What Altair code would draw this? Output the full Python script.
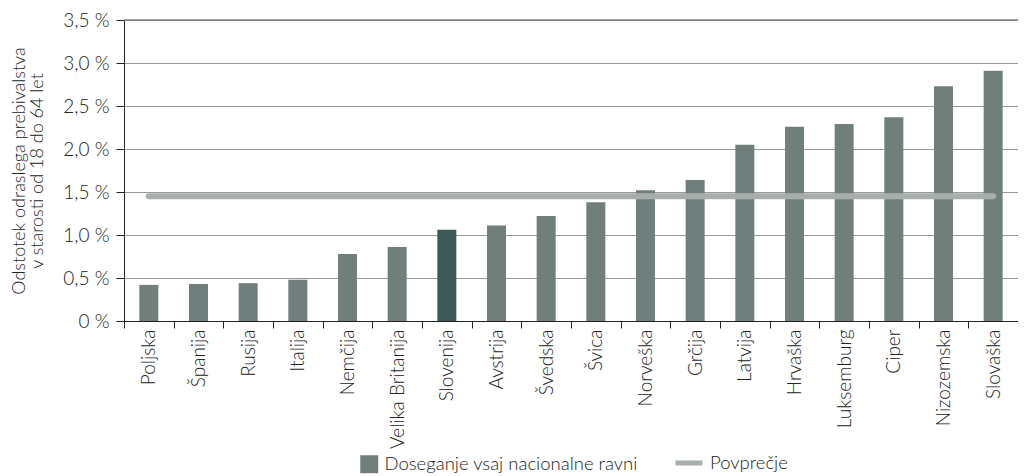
import altair as alt
import pandas as pd

countries = ["Poljska", "Španija", "Rusija", "Italija", "Nemčija", "Velika Britanija",
             "Slovenija", "Avstrija", "Švedska", "Švica", "Norveška", "Grčija",
             "Latvija", "Hrvaška", "Luksemburg", "Ciper", "Nizozemska", "Slovaška"]
values = [0.42, 0.43, 0.44, 0.48, 0.78, 0.86, 1.06, 1.11, 1.22, 1.38, 1.52, 1.64,
          2.05, 2.26, 2.29, 2.37, 2.73, 2.91]
average = 1.45
highlight = "Slovenija"
series_bar = "Doseganje vsaj nacionalne ravni"
series_avg = "Povprečje"
y_ticks = [0, 0.5, 1.0, 1.5, 2.0, 2.5, 3.0, 3.5]

bar_df = pd.DataFrame({
    "country": countries,
    "value": values,
    "grp": [highlight if c == highlight else series_bar for c in countries],
})
avg_df = pd.DataFrame({
    "country": countries,
    "avg": [average] * len(countries),
    "name": [series_avg] * len(countries),
})
top_df = pd.DataFrame({"top": [y_ticks[-1]]})

FONT = "Lato"
W = 300
TXT = "#222222"

x_enc = alt.X(
    "country:N", sort=countries, title=None,
    scale=alt.Scale(paddingInner=0, paddingOuter=0),
    axis=alt.Axis(labelAngle=-90, labelAlign="right", labelBaseline="middle",
                  labelFontSize=19, labelPadding=1, tickBand="extent",
                  tickSize=7, tickColor=TXT, domainColor=TXT, labelColor=TXT,
                  labelFont=FONT, labelFontWeight=W, grid=False, labelLimit=200),
)
y_scale = alt.Scale(domain=[0, 3.5], nice=False)

bars = alt.Chart(bar_df).mark_bar(size=19).encode(
    x=x_enc,
    y=alt.Y("value:Q", scale=y_scale,
            title=["Odstotek odraslega prebivalstva", "v starosti od 18 do 64 let"],
            axis=alt.Axis(values=y_ticks,
                          labelExpr="datum.value == 0 ? '0 %' : replace(format(datum.value, '.1f'), '.', ',') + ' %'",
                          labelFontSize=19, labelColor=TXT, labelFont=FONT, labelFontWeight=W,
                          labelPadding=7, tickSize=8, tickColor=TXT, domainColor=TXT,
                          grid=True, gridDash=[1, 1], gridColor="#333333", gridWidth=1,
                          titleFontSize=18, titleFont=FONT, titleFontWeight=W,
                          titleColor=TXT, titlePadding=16, titleLineHeight=18)),
    fill=alt.Fill("grp:N",
                  scale=alt.Scale(domain=[series_bar, highlight], range=["#707f7c", "#3d5a58"]),
                  legend=alt.Legend(values=[series_bar], title=None, orient="none",
                                    legendX=236, legendY=435, symbolType="square",
                                    symbolSize=324, symbolStrokeWidth=0, labelFontSize=18.5,
                                    labelFont=FONT, labelFontWeight=W, labelColor=TXT,
                                    labelOffset=6, labelLimit=400)),
)

avg_line = alt.Chart(avg_df).mark_line(strokeWidth=6, strokeCap="round").encode(
    x=alt.X("country:N", sort=countries),
    y=alt.Y("avg:Q", scale=y_scale),
    stroke=alt.Stroke("name:N", scale=alt.Scale(domain=[series_avg], range=["#a7aeab"]),
                      legend=alt.Legend(title=None, orient="none", legendX=549, legendY=427,
                                        symbolType="stroke", symbolSize=729,
                                        symbolStrokeWidth=5, labelFontSize=18.5,
                                        labelFont=FONT, labelFontWeight=W,
                                        labelColor=TXT, labelOffset=5)),
)

top_rule = alt.Chart(top_df).mark_rule(color="#808080", strokeWidth=1.5).encode(
    y=alt.Y("top:Q", scale=y_scale)
)

chart = alt.layer(bars, avg_line, top_rule).properties(
    width=894, height=301,
    autosize=alt.AutoSizeParams(type="none"),
    padding={"left": 116, "top": 12, "right": 0, "bottom": 155},
).resolve_scale(fill="independent", stroke="independent").configure_view(stroke=None)

chart.save("out.html", embed_options={"renderer": "svg", "actions": False})
